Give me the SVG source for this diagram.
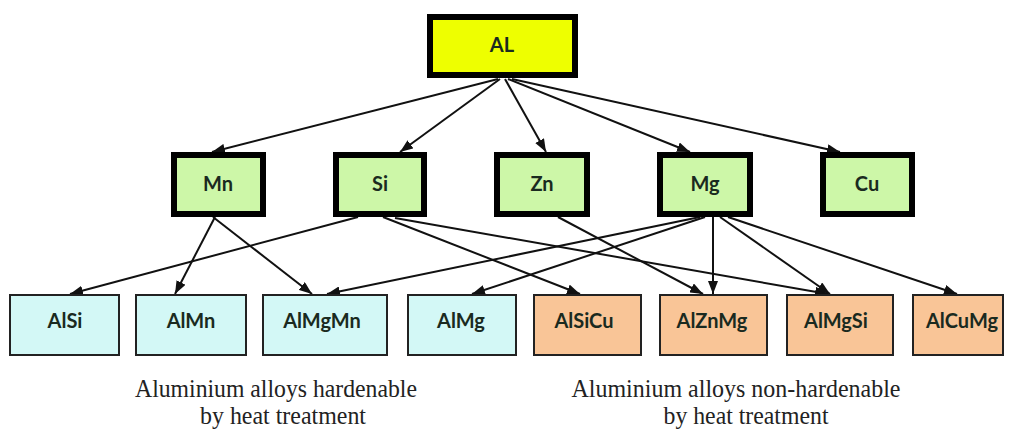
<svg xmlns="http://www.w3.org/2000/svg" width="1011" height="431" viewBox="0 0 1011 431">
<style>
.top{fill:#eeff00;stroke:#000;stroke-width:6}
.mid{fill:#cdf7a8;stroke:#000;stroke-width:6}
.cy{fill:#d3f8f6;stroke:#222;stroke-width:2}
.or{fill:#f9c597;stroke:#222;stroke-width:2}
.lb{font-family:Lato,"Open Sans",sans-serif;font-weight:bold;font-size:20px;fill:#1a2a20;text-anchor:middle}
.cap{font-family:"Liberation Serif",serif;font-size:26px;fill:#222;text-anchor:middle}
.con line{stroke:#111;stroke-width:2;marker-end:url(#ah)}
</style>
<defs>
<marker id="ah" markerUnits="userSpaceOnUse" markerWidth="13" markerHeight="10" refX="13" refY="5" orient="auto">
<path d="M0,0 L13,5 L0,10 z" fill="#111"/>
</marker>
</defs>
<rect width="1011" height="431" fill="#fff"/>
<g class="con">
<line x1="498" y1="79" x2="212" y2="152"/>
<line x1="500" y1="79" x2="400" y2="152"/>
<line x1="505" y1="79" x2="546" y2="152"/>
<line x1="508" y1="79" x2="690" y2="152"/>
<line x1="512" y1="79" x2="840" y2="152"/>
<line x1="215" y1="217" x2="175" y2="294"/>
<line x1="213" y1="217" x2="312" y2="294"/>
<line x1="358" y1="217" x2="70" y2="294"/>
<line x1="383" y1="217" x2="580" y2="294"/>
<line x1="395" y1="218" x2="828" y2="294"/>
<line x1="558" y1="217" x2="703" y2="294"/>
<line x1="700" y1="217" x2="327" y2="294"/>
<line x1="705" y1="217" x2="472" y2="294"/>
<line x1="713" y1="217" x2="713" y2="294"/>
<line x1="720" y1="217" x2="830" y2="294"/>
<line x1="728" y1="217" x2="957" y2="294"/>
</g>
<g id="AL"><rect class="top" x="430" y="17" width="145" height="58"/><text class="lb" x="502" y="52">AL</text></g>
<g id="Mn"><rect class="mid" x="174" y="155" width="89" height="59"/><text class="lb" x="218" y="191">Mn</text></g>
<g id="Si"><rect class="mid" x="336" y="155" width="88" height="59"/><text class="lb" x="380" y="191">Si</text></g>
<g id="Zn"><rect class="mid" x="497" y="155" width="90" height="59"/><text class="lb" x="542" y="191">Zn</text></g>
<g id="Mg"><rect class="mid" x="660" y="155" width="90" height="59"/><text class="lb" x="705" y="191">Mg</text></g>
<g id="Cu"><rect class="mid" x="823" y="155" width="89" height="59"/><text class="lb" x="867" y="191">Cu</text></g>
<g id="AlSi"><rect class="cy" x="10" y="295" width="109" height="60"/><text class="lb" x="65" y="328">AlSi</text></g>
<g id="AlMn"><rect class="cy" x="136" y="295" width="110" height="60"/><text class="lb" x="191" y="328">AlMn</text></g>
<g id="AlMgMn"><rect class="cy" x="263" y="295" width="124" height="60"/><text class="lb" x="322" y="328">AlMgMn</text></g>
<g id="AlMg"><rect class="cy" x="408" y="295" width="108" height="60"/><text class="lb" x="461" y="328">AlMg</text></g>
<g id="AlSiCu"><rect class="or" x="534" y="295" width="107" height="60"/><text class="lb" x="584" y="328">AlSiCu</text></g>
<g id="AlZnMg"><rect class="or" x="660" y="295" width="107" height="60"/><text class="lb" x="712" y="328">AlZnMg</text></g>
<g id="AlMgSi"><rect class="or" x="787" y="295" width="106" height="60"/><text class="lb" x="836" y="328">AlMgSi</text></g>
<g id="AlCuMg"><rect class="or" x="913" y="295" width="90" height="60"/><text class="lb" x="962" y="328">AlCuMg</text></g>
<g id="captions">
<text class="cap" x="276" y="397" textLength="282" lengthAdjust="spacingAndGlyphs">Aluminium alloys hardenable</text>
<text class="cap" x="283" y="424" textLength="166" lengthAdjust="spacingAndGlyphs">by heat treatment</text>
<text class="cap" x="736" y="397" textLength="329" lengthAdjust="spacingAndGlyphs">Aluminium alloys non-hardenable</text>
<text class="cap" x="746" y="424" textLength="165" lengthAdjust="spacingAndGlyphs">by heat treatment</text>
</g>
</svg>
